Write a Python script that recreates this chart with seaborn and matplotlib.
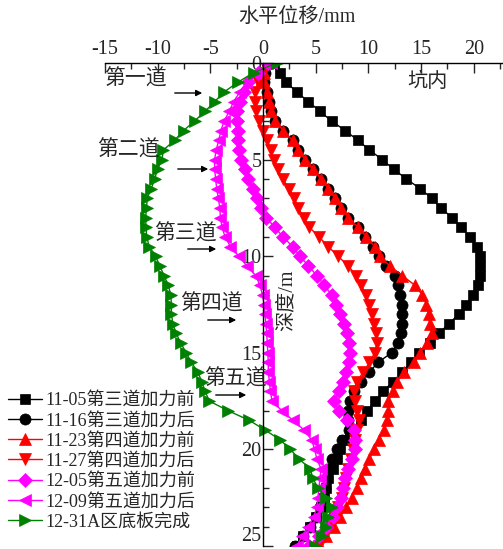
import numpy as np
import pandas as pd
import matplotlib
matplotlib.use("Agg")
import matplotlib.pyplot as plt
import seaborn as sns
from matplotlib.ticker import MultipleLocator

# depth (m) and horizontal displacement (mm) of each survey
depth = [0, 0.5, 1, 1.5, 2, 2.5, 3, 3.5, 4, 4.5,
         5, 5.5, 6, 6.5, 7, 7.5, 8, 8.5, 9, 9.5,
         10, 10.5, 11, 11.5, 12, 12.5, 13, 13.5, 14, 14.5,
         15, 15.5, 16, 16.5, 17, 17.5, 18, 18.5, 19, 19.5,
         20, 20.5, 21, 21.5, 22, 22.5, 23, 23.5, 24, 24.5, 25]

d1105 = [1.0, 1.6, 2.2, 3.2, 4.3, 5.4, 6.5, 7.8, 9.0, 10.1,
         11.3, 12.4, 13.6, 14.9, 16.0, 16.9, 17.9, 18.8, 19.6, 20.3,
         20.6, 20.6, 20.6, 20.4, 19.9, 19.3, 18.6, 17.6, 16.7, 15.8,
         14.8, 14.0, 13.2, 12.3, 11.4, 10.6, 9.9, 9.3, 8.5, 7.7,
         7.3, 7.0, 6.6, 6.2, 6.0, 5.8, 5.5, 5.0, 4.5, 3.8, 3.2]
d1116 = [0.4, 0.2, 0.1, 0.35, 0.55, 0.8, 1.15, 1.9, 2.8, 3.35,
         4.0, 4.7, 5.5, 6.2, 6.8, 7.4, 8.1, 9.0, 9.7, 10.4,
         11.0, 11.7, 12.5, 12.8, 13.0, 13.15, 13.2, 13.2, 13.1, 12.8,
         12.2, 10.9, 10.1, 9.3, 8.6, 8.25, 8.1, 8.1, 8.2, 7.5,
         7.0, 6.5, 6.3, 6.1, 5.9, 5.7, 5.4, 5.0, 4.5, 3.8, 3.0]
d1123 = [0.4, 0.1, 0.05, 0.35, 0.55, 0.8, 1.15, 1.9, 2.8, 3.35,
         4.0, 4.7, 5.5, 6.2, 6.8, 7.4, 8.1, 9.0, 9.8, 10.6,
         11.1, 12.0, 13.2, 14.4, 15.1, 15.5, 15.7, 15.8, 16.0, 15.6,
         14.9, 14.3, 13.4, 12.7, 12.3, 11.9, 11.9, 11.8, 11.5, 11.0,
         10.5, 10.1, 9.7, 9.3, 8.9, 8.4, 7.9, 7.3, 6.7, 6.0, 5.4]
d1127 = [0.3, 0.0, -0.5, -0.75, -0.8, -0.7, -0.4, -0.05, 0.4, 0.75,
         1.0, 1.4, 1.85, 2.5, 2.95, 3.35, 3.85, 4.4, 5.3, 6.2,
         7.1, 8.1, 8.8, 9.3, 9.8, 10.1, 10.3, 10.5, 10.7, 10.8,
         10.6, 10.1, 9.5, 8.9, 8.6, 8.7, 8.9, 9.1, 8.9, 8.7,
         8.5, 8.3, 8.1, 7.9, 7.7, 7.5, 7.1, 6.8, 6.4, 5.9, 5.3]
d1205 = [0.5, -0.5, -1.4, -1.8, -2.2, -2.45, -2.5, -2.4, -2.35, -2.25,
         -2.05, -1.7, -1.4, -1.0, -0.6, -0.2, 0.3, 1.1, 1.9, 2.8,
         3.5, 4.3, 5.1, 5.8, 6.5, 6.9, 7.3, 7.7, 8.0, 8.2,
         8.25, 8.2, 7.9, 7.6, 7.2, 6.7, 7.2, 8.0, 8.6, 8.7,
         8.7, 8.4, 8.1, 7.8, 7.55, 7.4, 7.0, 6.6, 6.0, 5.3, 4.4]
d1209 = [0.8, -0.8, -1.6, -2.2, -2.8, -3.2, -3.7, -4.0, -4.2, -4.45,
         -4.6, -4.6, -4.5, -4.4, -4.25, -4.1, -4.05, -3.9, -3.6, -3.1,
         -2.3, -1.55, -0.7, -0.3, -0.05, 0.1, 0.2, 0.25, 0.35, 0.4,
         0.45, 0.5, 0.5, 0.6, 0.7, 0.85, 1.8, 2.85, 3.9, 4.6,
         4.9, 5.1, 5.5, 5.4, 5.3, 5.2, 5.1, 4.8, 4.3, 3.7, 3.2]
d1231 = [1.3, -0.9, -2.4, -3.7, -4.6, -5.5, -6.5, -7.55, -8.4, -9.45,
         -9.6, -10.0, -10.3, -10.6, -11.0, -11.05, -11.15, -11.1, -11.05, -10.8,
         -10.2, -9.8, -9.4, -9.0, -8.75, -8.7, -8.7, -8.55, -8.25, -7.8,
         -7.3, -6.8, -6.2, -5.8, -5.5, -5.1, -3.3, -1.3, 0.2, 1.6,
         2.6, 3.4, 4.5, 4.7, 5.25, 6.0, 6.5, 6.2, 6.0, 5.6, 4.9]

labels = ["11-05第三道加力前", "11-16第三道加力后", "11-23第四道加力前",
          "11-27第四道加力后", "12-05第五道加力前", "12-09第五道加力后",
          "12-31A区底板完成"]
series = [d1105, d1116, d1123, d1127, d1205, d1209, d1231]
colors = ["black", "black", "#ff0000", "#ff0000", "#ff00ff", "#ff00ff", "#008000"]
markers = ["s", "o", "^", "v", "D", "<", ">"]
msizes = [7, 8, 8, 8, 7, 8, 8]

sns.set_style("ticks")
plt.rcParams['font.family'] = ['Liberation Serif', 'Noto Sans CJK SC']
plt.rcParams['axes.unicode_minus'] = False

W, H = 503, 549
fig = plt.figure(figsize=(W / 100, H / 100), dpi=100)
fig.patch.set_facecolor("white")
ax = fig.add_axes([105 / W, 3 / H, (W - 105) / W, (546 - 63) / H])

for vals, lab, c, m, ms in zip(series, labels, colors, markers, msizes):
    sns.lineplot(x=vals, y=depth, sort=False, estimator=None, ax=ax, color=c,
                 marker=m, markersize=ms, markeredgecolor=c, markeredgewidth=0.5,
                 lw=1, label=lab)

ax.set_xlim(-15, 22.77)
ax.set_ylim(25, 0)
ax.set_xlabel("")
ax.set_ylabel("")
ax.xaxis.tick_top()
ax.xaxis.set_major_locator(MultipleLocator(5))
ax.xaxis.set_minor_locator(MultipleLocator(2.5))
ax.yaxis.set_major_locator(MultipleLocator(5))
ax.yaxis.set_minor_locator(MultipleLocator(1))
ax.spines['left'].set_position(('data', 0))
ax.spines['right'].set_visible(False)
ax.spines['bottom'].set_visible(False)
for s in ('top', 'left'):
    ax.spines[s].set_linewidth(1)
    ax.spines[s].set_color("black")
ax.tick_params(axis='x', which='both', direction='in', top=True, bottom=False,
               labeltop=True, labelbottom=False, labelsize=14.5, pad=3)
ax.tick_params(axis='y', which='both', direction='in', labelsize=14.5, pad=1)
ax.tick_params(which='major', length=7, width=1)
ax.tick_params(which='minor', length=4, width=1)
ax.set_yticks([0, 5, 10, 15, 20, 25])
ax.set_yticklabels(["0", "5", "10", "15", "20", "25"])
ax.set_xticks([-15, -10, -5, 0, 5, 10, 15, 20])
ax.set_xticklabels(["-15", "-10", "-5", "0", "5", "10", "15", "20"])
# keep the bottom label inside the picture, as in the original
ax.get_yticklabels()[-1].set_va("bottom")


def fx(px):
    return px / W


def fy(py):
    return 1 - py / H


fig.text(fx(297), fy(17), "水平位移/mm", fontsize=14.5, ha="center", va="center")
fig.text(fx(287), fy(300), "深度/m", fontsize=14.5, ha="center", va="center",
         rotation=90)
fig.text(fx(427), fy(82), "坑内", fontsize=14.5, ha="center", va="center")

notes = [("第一道", 135, 80, 172, 93, 205),
         ("第二道", 128, 151, 175, 169, 211),
         ("第三道", 185, 235, 185, 249, 219),
         ("第四道", 211, 305, 205, 320, 239),
         ("第五道", 235, 380, 213, 395, 249)]
for txt, tx, ty, ax0, ay, ax1 in notes:
    fig.text(fx(tx), fy(ty), txt, fontsize=15, ha="center", va="center")
    fig.add_artist(matplotlib.patches.FancyArrowPatch(
        (fx(ax0), fy(ay)), (fx(ax1), fy(ay)), transform=fig.transFigure,
        arrowstyle='-|>', mutation_scale=9, color='black', lw=1))

leg = ax.legend(loc='upper left', bbox_to_anchor=(fx(8), fy(392)),
                bbox_transform=fig.transFigure, frameon=False, fontsize=13,
                handlelength=1.9, handletextpad=0.15, labelspacing=0.18,
                borderaxespad=0, borderpad=0)

fig.savefig("out.png", dpi=100)
